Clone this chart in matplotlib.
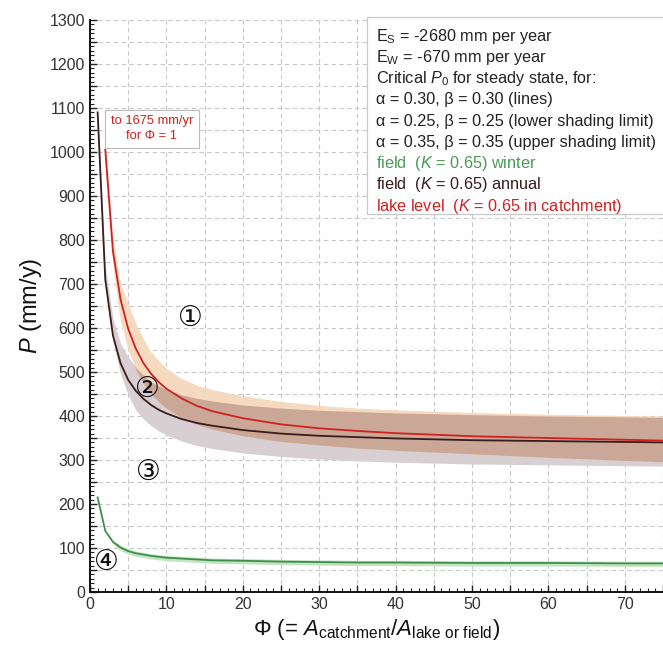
import matplotlib
matplotlib.use("Agg")

import matplotlib.pyplot as plt
import numpy as np
from matplotlib.patches import Rectangle
from matplotlib.ticker import MultipleLocator, FuncFormatter

# catchment / lake area ratio
phi = [1, 2, 3, 4, 5, 6, 7, 8, 9, 10, 12, 14, 16, 20, 25, 30, 35, 40, 50, 60, 70, 75]

# field (K = 0.65) annual, alpha = beta = 0.30 and shading limits
annual = [1090, 710, 583, 520, 482, 457, 439, 425, 414, 406, 393, 384, 378, 368,
          360, 355, 352, 349, 345, 343, 341, 340]
annual_hi = [1090, 740, 623, 565, 535, 510, 492, 478, 468, 460, 448, 440, 434, 425,
             418, 413, 410, 407, 403, 400, 398, 397]
annual_lo = [1090, 700, 570, 495, 448, 413, 393, 378, 366, 357, 343, 333, 326, 316,
             308, 302, 298, 295, 291, 289, 287, 286]

# lake level (K = 0.65 in catchment); the value at phi = 1 is off the chart
lake = [1675, 1005, 775, 665, 598, 553, 520, 496, 477, 462, 440, 423, 411, 395,
        381, 372, 366, 361, 354, 350, 346, 344]
lake_hi = [1675, 1020, 805, 700, 655, 610, 575, 545, 525, 508, 485, 470, 460, 446,
           433, 424, 418, 414, 408, 404, 401, 400]
lake_lo = [1675, 985, 740, 615, 550, 505, 474, 450, 432, 418, 396, 381, 370, 355,
           342, 334, 327, 322, 314, 306, 299, 296]

# field (K = 0.65) winter
winter = [215, 139, 114, 101, 93, 88, 85, 82, 80, 78, 76, 74, 72, 71, 69, 68, 67,
          67, 66, 66, 65, 65]
winter_hi = [215, 139, 117, 106, 98, 93, 90, 87, 85, 83, 81, 79, 77, 76, 74, 73, 72,
             72, 71, 71, 70, 70]
winter_lo = [215, 139, 110, 94, 86, 81, 78, 75, 73, 71, 69, 67, 65, 64, 62, 61, 60,
             60, 59, 59, 58, 58]

legend_lines = [
    (r"$\mathrm{E_S}$ = -2680 mm per year", "#222222"),
    (r"$\mathrm{E_W}$ = -670 mm per year", "#222222"),
    (r"Critical $P_0$ for steady state, for:", "#222222"),
    ("α = 0.30, β = 0.30 (lines)", "#222222"),
    ("α = 0.25, β = 0.25 (lower shading limit)", "#222222"),
    ("α = 0.35, β = 0.35 (upper shading limit)", "#222222"),
    (r"field  ($K$ = 0.65) winter", "#4a9a55"),
    (r"field  ($K$ = 0.65) annual", "#3a1c1c"),
    (r"lake level  ($K$ = 0.65 in catchment)", "#d02020"),
]

zones = [("①", 13.1, 623), ("②", 7.5, 461), ("③", 7.7, 273), ("④", 2.2, 68)]

plt.rcParams["font.family"] = ["Liberation Sans", "DejaVu Sans"]
plt.rcParams["mathtext.fontset"] = "custom"
plt.rcParams["mathtext.rm"] = "Liberation Sans"
plt.rcParams["mathtext.it"] = "Liberation Sans:italic"

fig = plt.figure(figsize=(6.63, 6.5), dpi=100)
ax = fig.add_axes([90 / 663, 58 / 650, 573 / 663, 572 / 650])

x = np.array(phi, dtype=float)
a_hi, a_lo = np.array(annual_hi), np.array(annual_lo)
# lake curve is drawn from phi = 2; the box notes the phi = 1 value
l_hi, l_lo = np.array(lake_hi), np.array(lake_lo)
xl = x[1:]

ax.fill_between(x, a_lo, a_hi, color="#d8cfd2", lw=0, zorder=1)
ax.fill_between(xl, l_lo[1:], l_hi[1:], color="#f5dabf", lw=0, zorder=1)
ov_lo = np.maximum(a_lo, l_lo)[1:]
ov_hi = np.minimum(a_hi, l_hi)[1:]
ax.fill_between(xl, ov_lo, ov_hi, where=ov_hi > ov_lo, interpolate=True,
                color="#caa797", lw=0, zorder=1)
ax.fill_between(x, winter_lo, winter_hi, color="#c4e3c4", lw=0, zorder=1)

ax.plot(x, annual, color="#3a1c1c", lw=1.3, zorder=3)
ax.plot(xl, lake[1:], color="#d02020", lw=1.3, zorder=3)
ax.plot(x, winter, color="#3f8f4a", lw=1.3, zorder=3)

for label, px, py in zones:
    ax.text(px, py, label, fontsize=20, ha="center", va="center",
            family=["DejaVu Sans"], color="#111111", zorder=4)

ax.text(8.1, 1053, "to 1675 mm/yr\nfor Φ = 1", fontsize=9.3, color="#d02020",
        ha="center", va="center", linespacing=1.3, zorder=5,
        bbox=dict(boxstyle="square,pad=0.45", fc="white", ec="#bbbbbb", lw=0.8))

# legend box
ax.add_patch(Rectangle((0.483, 0.66), 0.6, 0.345, transform=ax.transAxes,
                       fc="white", ec="#c8c8c8", lw=0.9, zorder=5, clip_on=False))
y0 = 0.972
for i, (txt, col) in enumerate(legend_lines):
    ax.text(0.499, y0 - i * 0.0372, txt, transform=ax.transAxes, fontsize=11.7,
            color=col, va="center", ha="left", zorder=6)

ax.set_xlim(0, 75)
ax.set_ylim(0, 1300)
ax.xaxis.set_major_locator(MultipleLocator(5))
ax.xaxis.set_minor_locator(MultipleLocator(1))
ax.yaxis.set_major_locator(MultipleLocator(50))
ax.yaxis.set_minor_locator(MultipleLocator(10))
ax.xaxis.set_major_formatter(FuncFormatter(lambda v, p: f"{v:.0f}" if v % 10 == 0 else ""))
ax.yaxis.set_major_formatter(FuncFormatter(lambda v, p: f"{v:.0f}" if v % 100 == 0 else ""))
ax.tick_params(which="both", direction="in", colors="#222222", labelsize=11.5,
               labelcolor="#333333")
ax.tick_params(which="major", length=5, width=1)
ax.tick_params(which="minor", length=3, width=0.8)
ax.grid(True, which="major", color="#c8c8c8", ls=(0, (4, 3)), lw=0.8, zorder=0)
ax.set_axisbelow(True)

for s in ("top", "right"):
    ax.spines[s].set_visible(False)
for s in ("left", "bottom"):
    ax.spines[s].set_linewidth(1.4)
    ax.spines[s].set_color("#111111")

ax.set_ylabel(r"$P$ (mm/y)", fontsize=17, color="#111111", labelpad=4)
ax.set_xlabel(r"Φ (= $A_{\mathrm{catchment}}/A_{\mathrm{lake\ or\ field}}$)",
              fontsize=16, color="#111111", labelpad=4)

fig.savefig("out.png", dpi=100)
plt.close(fig)
